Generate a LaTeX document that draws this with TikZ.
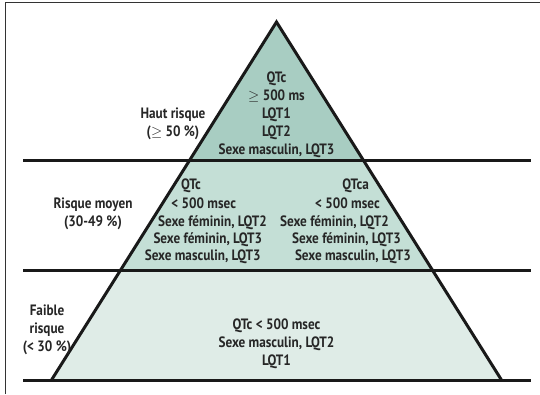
\documentclass[tikz,border=0pt]{standalone}
\usepackage{fontspec}
\setmainfont{PT Sans}[FakeStretch=0.88]
\usetikzlibrary{positioning}
\definecolor{tierA}{RGB}{168,205,194}
\definecolor{tierB}{RGB}{196,223,214}
\definecolor{tierC}{RGB}{223,236,231}
\tikzstyle{frame}=[line width=1.2pt,black!80]
\tikzstyle{edge}=[line width=3pt,black!90,line join=miter]
\tikzstyle{rule}=[line width=3pt,black!90]
\tikzstyle{lbl}=[font=\fontsize{15}{18}\selectfont\bfseries,align=center,inner sep=0pt,text=black!85]
\tikzstyle{row}=[lbl,text height=1.5ex,text depth=.25ex]
\tikzstyle{pyr}=[x=1pt,y=-1pt]

\begin{document}
\begin{tikzpicture}[pyr]
  \useasboundingbox (0,0) rectangle (540,394);
  \draw[frame] (5.3,394) -- (5.3,2.5) -- (540,2.5);
  % pyramid corners and rule ends
  \coordinate (apex) at (276.5,22);
  \coordinate (l1) at (189.8,160); \coordinate (r1) at (363.2,160);
  \coordinate (l2) at (120.6,270); \coordinate (r2) at (432.4,270);
  \coordinate (l3) at (51.5,380);  \coordinate (r3) at (501.5,380);
  \foreach \k/\y in {1/160, 2/270, 3/380}
    {\coordinate (a\k) at (23,\y); \coordinate (b\k) at (531,\y);}
  \fill[tierA] (apex) -- (l1) -- (r1) -- cycle;
  \fill[tierB] (l1) -- (l2) -- (r2) -- (r1) -- cycle;
  \fill[tierC] (l2) -- (l3) -- (r3) -- (r2) -- cycle;
  \foreach \k in {1,2,3}
    {\draw[rule] (a\k) -- (b\k);}
  \draw[edge] (l3) -- (apex) -- (r3);
  % labels
  \node[lbl] (haut) at (173,124) {Haut risque\\($\geq$ 50 \%)};
  \node[lbl] (top) at (276.5,115) {QTc\\$\geq$ 500 ms\\LQT1\\LQT2\\Sexe masculin, LQT3};
  \node[lbl] (moyen) at (93,214) {Risque moyen\\(30-49 \%)};
  \foreach \i/\x/\y/\t in {1/180.8/186/QTc, 2/171.2/205/< 500 msec,
      3/158/223/{Sexe féminin, LQT2}, 4/153.3/240/{Sexe féminin, LQT3},
      5/144.6/257/{Sexe masculin, LQT3}}
    {\node[row,anchor=west] (qtc\i) at (\x,\y) {\t};}
  \foreach \i/\x/\y/\t in {1/369/186/QTca, 2/380/205/< 500 msec,
      3/389/223/{Sexe féminin, LQT2}, 4/401/240/{Sexe féminin, LQT3},
      5/411/257/{Sexe masculin, LQT3}}
    {\node[row,anchor=east] (qtca\i) at (\x,\y) {\t};}
  \node[lbl] (faible) at (47,330) {Faible\\risque\\(< 30 \%)};
  \node[lbl] (bas) at (276.5,344) {QTc < 500 msec\\Sexe masculin, LQT2\\LQT1};
\end{tikzpicture}
\end{document}
